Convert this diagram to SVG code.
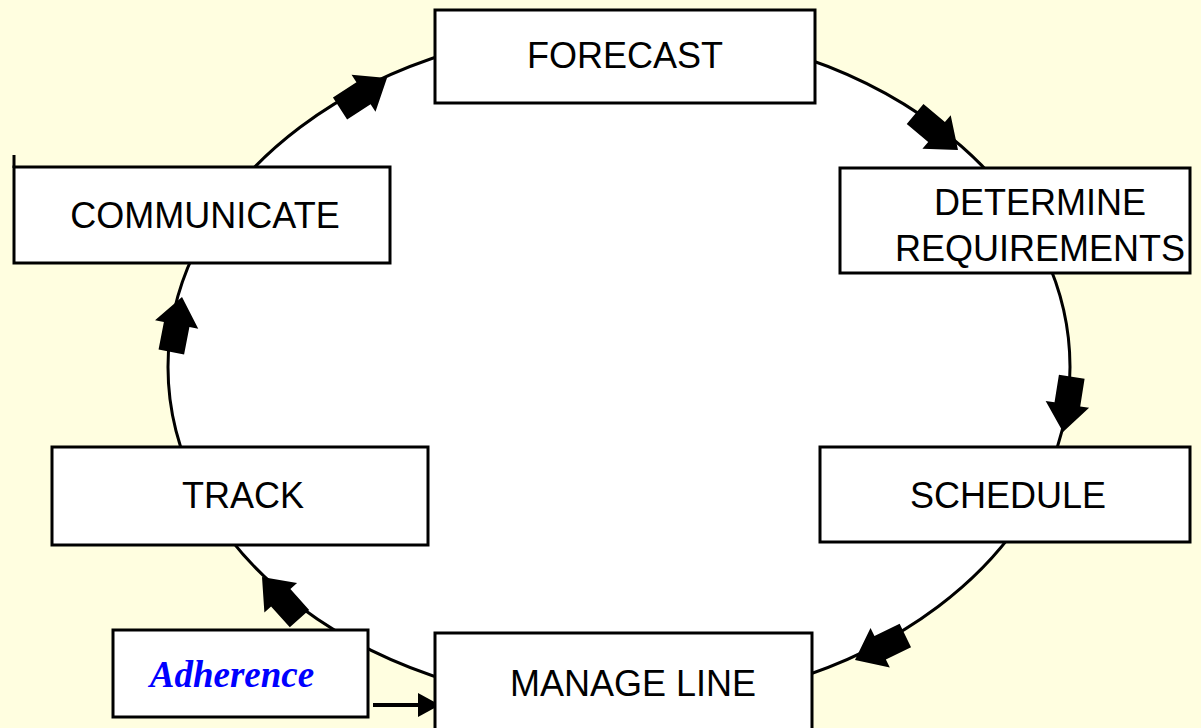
<svg xmlns="http://www.w3.org/2000/svg" width="1201" height="728" viewBox="0 0 1201 728">
<style>
.box{fill:#fff;stroke:#000;stroke-width:3}
.lbl{font-family:"Liberation Sans",Arial,sans-serif;font-size:36px;fill:#000;text-anchor:middle}
.adh{font-family:"Liberation Serif","Times New Roman",serif;font-size:37px;font-weight:bold;font-style:italic;fill:#0000ff;text-anchor:middle}
</style>
<defs>
<path id="blk" d="M-56,-13 L-28,-13 L-28,-22 L0,0 L-28,22 L-28,13 L-56,13 Z" fill="#000"/>
</defs>
<rect width="1201" height="728" fill="#FFFEE0"/>
<g id="connectors">
<ellipse cx="619" cy="367" rx="451" ry="339" fill="#fff" stroke="#000" stroke-width="3"/>
<use href="#blk" transform="translate(387,78) rotate(-33)"/>
<use href="#blk" transform="translate(958,150) rotate(40)"/>
<use href="#blk" transform="translate(1063,432) rotate(99)"/>
<use href="#blk" transform="translate(855,660) rotate(154)"/>
<use href="#blk" transform="translate(262,577) rotate(228)"/>
<use href="#blk" transform="translate(182,297) rotate(-79)"/>
<line x1="373" y1="705" x2="420" y2="705" stroke="#000" stroke-width="4"/>
<path d="M418,693 L440,705 L418,717 Z" fill="#000"/>
</g>
<g id="forecast">
<rect class="box" x="435" y="10" width="380" height="93"/>
<text class="lbl" x="625" y="68">FORECAST</text>
</g>
<g id="determine">
<rect class="box" x="840" y="168" width="350" height="105"/>
<text class="lbl" x="1040" y="215">DETERMINE</text>
<text class="lbl" x="1040" y="261">REQUIREMENTS</text>
</g>
<g id="schedule">
<rect class="box" x="820" y="447" width="370" height="95"/>
<text class="lbl" x="1008" y="508">SCHEDULE</text>
</g>
<g id="manage">
<rect class="box" x="435" y="633" width="377" height="100"/>
<text class="lbl" x="633" y="696">MANAGE LINE</text>
</g>
<g id="track">
<rect class="box" x="52" y="447" width="376" height="98"/>
<text class="lbl" x="243" y="508">TRACK</text>
</g>
<g id="communicate">
<rect class="box" x="14" y="167" width="376" height="96"/>
<line x1="14" y1="155" x2="14" y2="168" stroke="#000" stroke-width="3"/>
<text class="lbl" x="205" y="228">COMMUNICATE</text>
</g>
<g id="adherence">
<rect class="box" x="113" y="630" width="255" height="87"/>
<text class="adh" x="232" y="687">Adherence</text>
</g>
</svg>
